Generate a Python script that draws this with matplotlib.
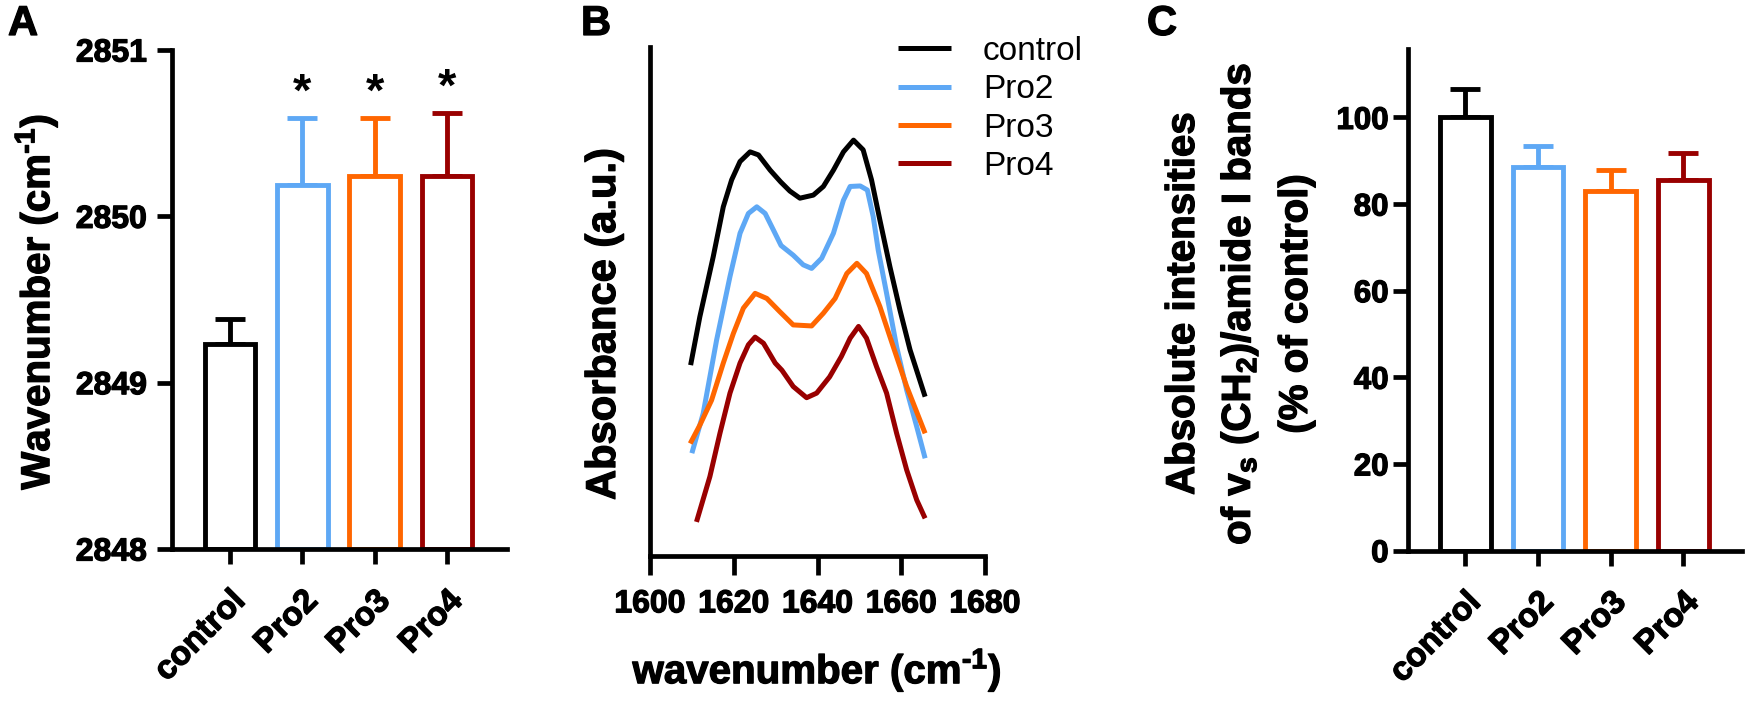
import matplotlib
matplotlib.use("Agg")
import matplotlib.pyplot as plt
import matplotlib.patheffects as pe
import numpy as np

plt.rcParams['font.family'] = ['Liberation Sans', 'DejaVu Sans']
plt.rcParams['font.weight'] = 'bold'
plt.rcParams['mathtext.fontset'] = 'custom'
plt.rcParams['mathtext.rm'] = 'Liberation Sans:bold'
plt.rcParams['mathtext.bf'] = 'Liberation Sans:bold'
plt.rcParams['mathtext.it'] = 'Liberation Sans:bold'
plt.rcParams['mathtext.default'] = 'rm'

# ---------------- data ----------------
groups = ['control', 'Pro2', 'Pro3', 'Pro4']
colors = ['#000000', '#5EA8F5', '#FF6600', '#990000']

# Panel A: wavenumber (cm-1)
a_mean = [2849.23, 2850.19, 2850.24, 2850.24]
a_err = [0.15, 0.40, 0.35, 0.38]
a_sig = ['', '*', '*', '*']
a_yticks = [2848, 2849, 2850, 2851]

# Panel C: % of control
c_mean = [100.0, 88.6, 82.9, 85.5]
c_err = [6.6, 4.7, 4.9, 6.4]
c_yticks = [0, 20, 40, 60, 80, 100]

# Panel B: spectra (a.u.)
ctrl_x = [1609.7, 1611.9, 1615.1, 1617.5, 1619.5, 1621.5, 1623.9, 1625.9, 1628.7, 1631.2, 1633.4, 1635.8, 1639.0, 1641.4, 1643.8, 1646.2, 1648.6, 1650.9, 1652.9, 1654.9, 1657.3, 1659.7, 1662.1, 1665.7]
ctrl_y = [0.375, 0.470, 0.588, 0.686, 0.739, 0.775, 0.794, 0.788, 0.758, 0.735, 0.717, 0.703, 0.709, 0.726, 0.758, 0.794, 0.817, 0.798, 0.739, 0.660, 0.568, 0.483, 0.405, 0.313]

pro2_x = [1610.0, 1612.7, 1615.9, 1619.1, 1621.5, 1623.5, 1625.5, 1627.5, 1629.5, 1631.3, 1634.2, 1636.6, 1638.6, 1641.0, 1643.8, 1646.2, 1647.8, 1650.2, 1651.9, 1653.3, 1654.5, 1656.5, 1658.9, 1661.3, 1663.7, 1665.7]
pro2_y = [0.202, 0.280, 0.424, 0.549, 0.634, 0.673, 0.686, 0.673, 0.640, 0.610, 0.591, 0.572, 0.565, 0.585, 0.634, 0.699, 0.726, 0.727, 0.719, 0.667, 0.601, 0.516, 0.411, 0.326, 0.254, 0.192]

pro3_x = [1609.6, 1611.9, 1614.7, 1617.5, 1619.9, 1622.3, 1625.1, 1627.9, 1631.0, 1634.2, 1638.6, 1641.4, 1644.2, 1647.0, 1649.4, 1651.7, 1654.9, 1658.1, 1661.3, 1665.7]
pro3_y = [0.221, 0.257, 0.306, 0.379, 0.437, 0.487, 0.516, 0.506, 0.480, 0.454, 0.452, 0.477, 0.506, 0.555, 0.575, 0.555, 0.490, 0.411, 0.333, 0.241]

pro4_x = [1611.1, 1614.3, 1616.7, 1619.1, 1621.5, 1623.5, 1625.1, 1627.1, 1629.9, 1631.5, 1634.2, 1637.4, 1639.8, 1642.9, 1645.7, 1647.8, 1649.8, 1651.7, 1654.1, 1656.5, 1658.9, 1661.3, 1663.7, 1665.7]
pro4_y = [0.067, 0.156, 0.241, 0.320, 0.379, 0.415, 0.430, 0.418, 0.379, 0.365, 0.333, 0.311, 0.320, 0.352, 0.392, 0.428, 0.451, 0.428, 0.372, 0.320, 0.241, 0.169, 0.110, 0.074]

b_xticks = [1600, 1620, 1640, 1660, 1680]

# ---------------- figure ----------------
W, H = 1750, 703
fig = plt.figure(figsize=(W / 100, H / 100), dpi=100)

def fx(px):
    return px / W

def fy(py):
    return 1 - py / H

HEAVY = [pe.withStroke(linewidth=0.9, foreground='black')]

SPW = 3.4   # spine width (pt)
BW = 3.5    # bar edge width (pt)

def heavy(labels):
    for t in labels:
        t.set_path_effects(HEAVY)

def style_bar_axes(ax):
    for s in ['top', 'right']:
        ax.spines[s].set_visible(False)
    for s in ['left', 'bottom']:
        ax.spines[s].set_linewidth(SPW)
        ax.spines[s].set_zorder(5)
        ax.spines[s].set_capstyle('projecting')
    ax.tick_params(axis='both', width=SPW, length=11, color='black')

def bar_panel(ax, means, errs, ylim, yticks, ypad, ysize):
    x = np.arange(len(groups))
    bottom = ylim[0]
    for i in range(len(groups)):
        ax.bar(x[i], means[i] - bottom, bottom=bottom, width=0.70,
               facecolor='white', edgecolor=colors[i], linewidth=BW, zorder=2)
        ax.errorbar(x[i], means[i], yerr=[[0], [errs[i]]], fmt='none',
                    ecolor=colors[i], elinewidth=BW, capsize=10.5,
                    capthick=BW, zorder=1.5)
    ax.set_xlim(-0.8, 3.83)
    ax.set_ylim(*ylim)
    ax.set_yticks(yticks)
    ax.set_yticklabels([str(t) for t in yticks], fontsize=ysize, fontweight='bold')
    ax.set_xticks(x)
    ax.set_xticklabels(groups, fontsize=24, fontweight='bold', rotation=45,
                       ha='right', va='top', rotation_mode='anchor')
    style_bar_axes(ax)
    ax.tick_params(axis='y', pad=ypad)
    ax.tick_params(axis='x', pad=15)
    heavy(ax.get_xticklabels())
    heavy(ax.get_yticklabels())

def ftext(x, y, s, size, rot=0, ha='center'):
    t = fig.text(x, y, s, rotation=rot, ha=ha, va='center', fontsize=size,
                 fontweight='bold')
    t.set_path_effects(HEAVY)
    return t

# ---- Panel A ----
axA = fig.add_axes([fx(172), fy(549), fx(507) - fx(172), fy(50) - fy(549)])
bar_panel(axA, a_mean, a_err, (2848, 2851), a_yticks, 7, 23)
for i in range(len(groups)):
    if a_sig[i]:
        axA.annotate(a_sig[i], (i, a_mean[i] + a_err[i]), xytext=(0, 2),
                     textcoords='offset points', ha='center', va='bottom',
                     fontsize=34, fontweight='bold')
ftext(fx(36), fy(302), r'Wavenumber (cm$^{\text{-1}}$)', 29, rot=90)
ftext(fx(8), fy(24), 'A', 30, ha='left')

# ---- Panel C ----
axC = fig.add_axes([fx(1408), fy(550.5), fx(1742) - fx(1408), fy(49) - fy(550.5)])
bar_panel(axC, c_mean, c_err, (0, 115.8), c_yticks, 3, 22.5)
axC.set_xlim(-0.79, 3.81)
ftext(fx(1183), fy(304), 'Absolute intensities', 29, rot=90)
ftext(fx(1239), fy(304), r'of v$_{\text{s}}$ (CH$_{\text{2}}$)/amide I bands', 29, rot=90)
ftext(fx(1296), fy(304), '(% of control)', 29, rot=90)
ftext(fx(1147), fy(24), 'C', 30, ha='left')

# ---- Panel B ----
axB = fig.add_axes([fx(650), fy(556), fx(985) - fx(650), fy(47) - fy(556)])
series = [(ctrl_x, ctrl_y), (pro2_x, pro2_y), (pro3_x, pro3_y), (pro4_x, pro4_y)]
for i, (xs, ys) in enumerate(series):
    axB.plot(xs, ys, color=colors[i], linewidth=3.6, label=groups[i],
             solid_joinstyle='round', solid_capstyle='butt')
axB.set_xlim(1600, 1680)
axB.set_ylim(0, 1)
axB.set_xticks(b_xticks)
axB.set_xticklabels([str(t) for t in b_xticks], fontsize=23, fontweight='bold')
heavy(axB.get_xticklabels())
axB.set_yticks([])
for s in ['top', 'right']:
    axB.spines[s].set_visible(False)
for s in ['left', 'bottom']:
    axB.spines[s].set_linewidth(SPW)
    axB.spines[s].set_capstyle('projecting')
axB.tick_params(axis='x', width=SPW, length=14, pad=10)
ftext(fx(604), fy(324), 'Absorbance (a.u.)', 30, rot=90)
ftext(fx(817), fy(670), r'wavenumber (cm$^{\text{-1}}$)', 29)
ftext(fx(581), fy(24), 'B', 30, ha='left')

leg = axB.legend(loc='upper left', bbox_to_anchor=(fx(898), fy(36)),
                 bbox_transform=fig.transFigure, frameon=False,
                 borderaxespad=0, borderpad=0, handlelength=1.6,
                 handletextpad=0.95, labelspacing=0.22,
                 prop={'size': 24, 'weight': 'normal'})
for line in leg.get_lines():
    line.set_linewidth(3.6)

fig.savefig('out.png', dpi=100)
